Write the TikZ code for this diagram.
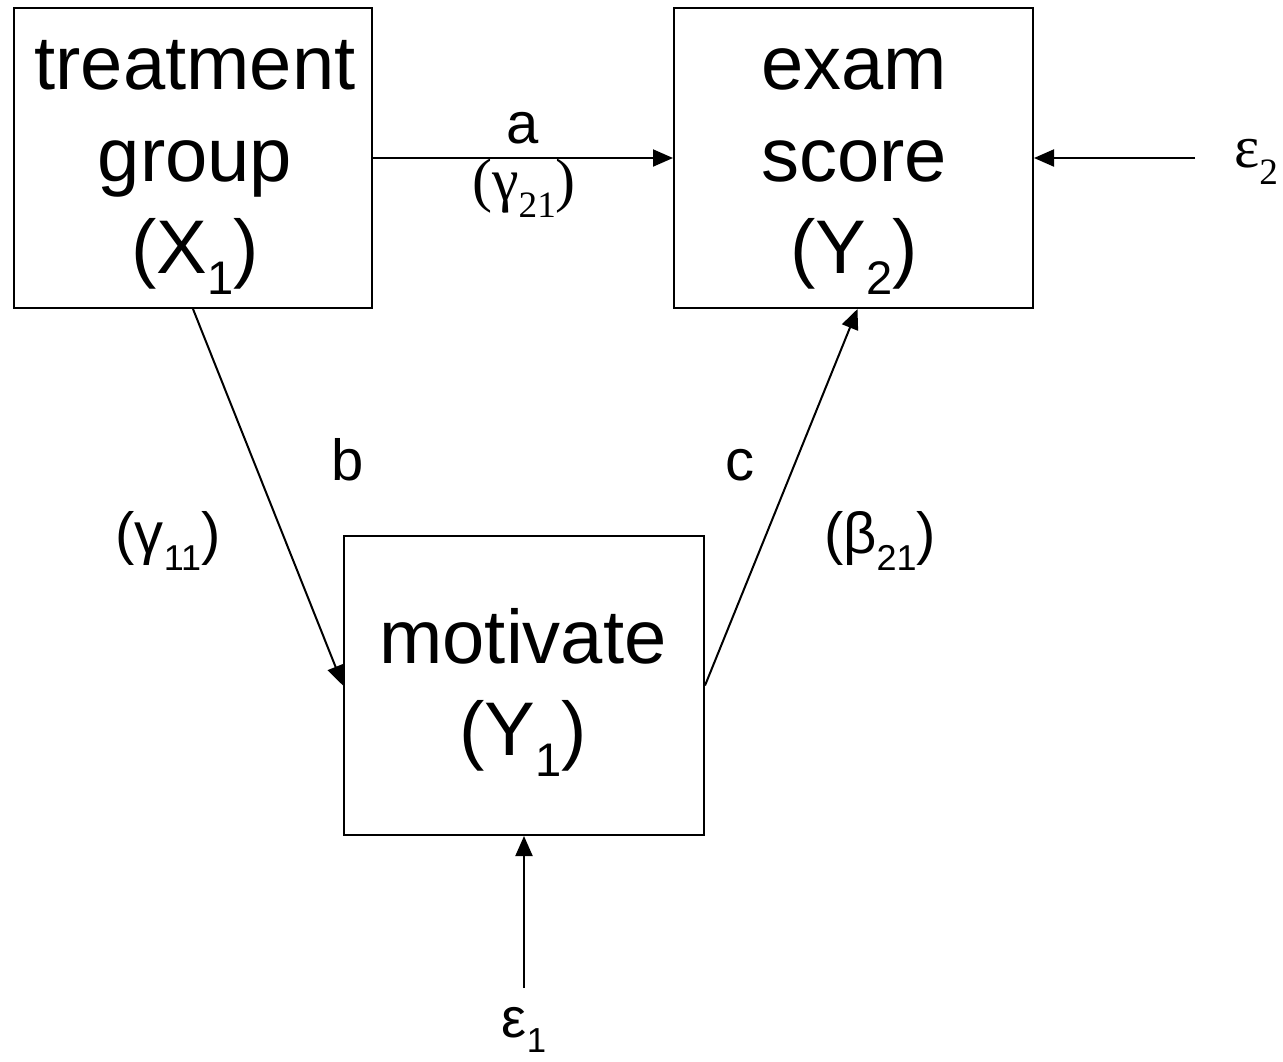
\documentclass[tikz,border=0pt]{standalone}
\usepackage{fontspec}
\usepackage{graphicx}
\setmainfont{Liberation Sans}
\newfontfamily\serifgr{Liberation Serif}
\usetikzlibrary{arrows.meta}
\newcommand\lsub[1]{\raisebox{-0.28em}{\scalebox{0.62}{#1}}}
\begin{document}
\begin{tikzpicture}[x=1pt,y=-1pt,
  box/.style={draw,line width=2pt,inner sep=0pt},
  bigtext/.style={font=\fontsize{76}{92}\selectfont,align=center,inner sep=0pt},
  lbl/.style={font=\fontsize{58}{66}\selectfont,inner sep=0pt},
  conn/.style={line width=2pt,-{Triangle[length=20pt,width=17pt]}}]
\useasboundingbox[fill=white] (0,0) rectangle (1283,1061);
% boxes
\node[box,minimum width=358pt,minimum height=300pt] (X) at (193,158) {};
\node[box,minimum width=359pt,minimum height=300pt] (Y2) at (853.5,158) {};
\node[box,minimum width=360pt,minimum height=299pt] (Y1) at (524,685.5) {};
% box texts
\node[bigtext] (Xt) at (195,163) {\strut treatment\\group\\(X\lsub{1})\strut};
\node[bigtext] (Y2t) at (854,163) {\strut exam\\score\\(Y\lsub{2})\strut};
\node[bigtext] (Y1t) at (523,691) {\strut motivate\\(Y\lsub{1})\strut};
% error terms
\coordinate (e2s) at (1195,158);
\coordinate (e1s) at (524,988);
\node[inner sep=0pt,font=\serifgr\fontsize{60}{66}\selectfont] (e2) at (1256,162) {ε\lsub{2}};
\node[inner sep=0pt,font=\fontsize{56}{66}\selectfont] (e1) at (524,1030) {ε\lsub{1}};
% connectors
\draw[conn] (X.east) -- (Y2.west);
\draw[conn] (e2s) -- (Y2.east);
\draw[conn] (X.south) -- (Y1.west);
\draw[conn] (Y1.east) -- ([xshift=4pt]Y2.south);
\draw[conn] (e1s) -- (Y1.south);
% labels
\node[lbl,anchor=base] (la) at (523,143) {a};
\node[inner sep=0pt,font=\serifgr\fontsize{60}{66}\selectfont] (lg21) at (524,188) {(γ\lsub{21})};
\node[lbl,anchor=base] (lb) at (348,480) {b};
\node[lbl,anchor=base] (lc) at (740,480) {c};
\node[lbl] (lg11) at (168,541) {(γ\lsub{11})};
\node[lbl] (lb21) at (880,541) {(β\lsub{21})};
\end{tikzpicture}
\end{document}
